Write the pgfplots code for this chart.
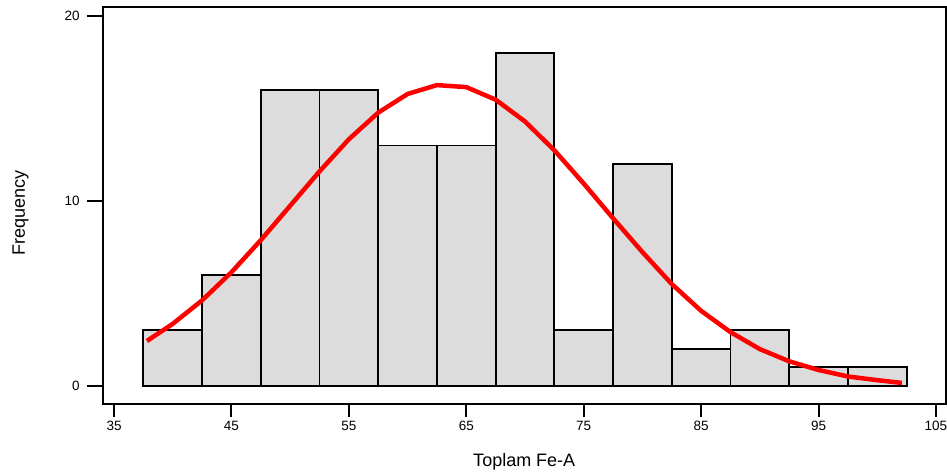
\documentclass[border=0pt]{standalone}
\usepackage{pgfplots}
\pgfplotsset{compat=1.18}
\usepackage{fontspec}
\setmainfont{Liberation Sans}
\definecolor{barfill}{RGB}{220,220,220}
\begin{document}
\begin{tikzpicture}
\begin{axis}[
  scale only axis,
  width=842.5bp, height=396bp,
  xmin=34.06, xmax=105.81,
  ymin=-0.963, ymax=20.47,
  xtick={35,45,55,65,75,85,95,105},
  ytick={0,10,20},
  minor tick num=0,
  tick align=outside,
  axis line style={line width=2bp},
  every tick/.style={black, line width=2bp},
  xtick style={/pgfplots/major tick length=13bp},
  ytick style={/pgfplots/major tick length=16bp},
  xtick pos=bottom, ytick pos=left,
  /pgf/number format/assume math mode=true,
  ticklabel style={font=\fontsize{13.5bp}{16bp}\selectfont},
  xticklabel style={anchor=north, yshift=-13bp, inner sep=0pt, outer sep=0pt, text depth=0pt},
  yticklabel style={anchor=east, xshift=-19bp, inner sep=0pt, outer sep=0pt},
  xlabel={Toplam Fe-A},
  ylabel={Frequency},
  label style={font=\fontsize{18bp}{21bp}\selectfont},
  xlabel style={at={([yshift=-63.2bp]axis description cs:0.5,0)}, anchor=base, inner sep=0pt},
  ylabel style={at={([xshift=-78bp]axis description cs:0,0.482)}, anchor=base, rotate=0, inner sep=0pt},
]
\addplot[ybar interval, fill=barfill, draw=black, line width=1.8bp] coordinates {
  (37.5,3) (42.5,6) (47.5,16) (52.5,16) (57.5,13) (62.5,13) (67.5,18)
  (72.5,3) (77.5,12) (82.5,2) (87.5,3) (92.5,1) (97.5,1) (102.5,1)
};
\addplot[red, line width=4.5bp, line join=round] coordinates {
  (37.8,2.42) (40,3.35) (42.5,4.62) (45,6.14) (47.5,7.88) (50,9.74)
  (52.5,11.6) (55,13.34) (57.5,14.78) (60,15.79) (62.5,16.27) (65,16.16)
  (67.5,15.48) (70,14.3) (72.5,12.74) (75,10.94) (77.5,9.06) (80,7.23)
  (82.5,5.5) (85,4.05) (87.5,2.9) (90,1.98) (92.5,1.32) (95,0.85)
  (97.5,0.5) (100,0.3) (102.1,0.15)
};
\end{axis}
\pgfresetboundingbox
\path ([shift={(-103bp,-70.5bp)}]current axis.south west) rectangle ([shift={(1.5bp,7.5bp)}]current axis.north east);
\end{tikzpicture}
\end{document}
